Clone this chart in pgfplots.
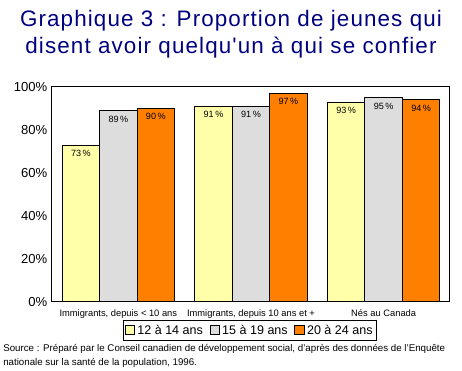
\documentclass[border=0pt]{standalone}
\usepackage{fontspec}
\setmainfont{Liberation Sans}
\usepackage{pgfplots}
\pgfplotsset{compat=1.18}
\definecolor{cyel}{HTML}{FFFFAA}
\definecolor{cgry}{HTML}{DDDDDD}
\definecolor{corg}{HTML}{FF8000}
\definecolor{navy}{HTML}{000080}
\newfontfamily\titlefont[LetterSpace=5]{Liberation Sans}
\begin{document}
\begin{tikzpicture}
\path[use as bounding box] (0,0) rectangle (346.5pt,278.25pt);
\node[text=navy, font=\titlefont\fontsize{16.8pt}{20.2pt}\selectfont, align=center, anchor=center] at (173.25pt,252.5pt)
  {Graphique 3 : Proportion de jeunes qui\\disent avoir quelqu'un à qui se confier};
\begin{axis}[
  at={(39pt,51.75pt)}, anchor=south west,
  scale only axis, width=298.5pt, height=161.25pt,
  xmin=-0.5, xmax=2.5, ymin=0, ymax=100,
  ybar=0pt, bar width=28.1pt,
  axis line style={black, line width=0.75pt},
  xtick={0,1,2},
  xticklabels={{Immigrants, depuis < 10 ans},{Immigrants, depuis 10 ans et +},{Nés au Canada}},
  xticklabel style={font=\fontsize{7pt}{8pt}\selectfont, inner sep=1pt, yshift=-4.5pt},
  ytick={0,20,40,60,80,100},
  yticklabel={\pgfmathprintnumber{\tick}\%},
  yticklabel style={font=\fontsize{9.8pt}{11pt}\selectfont},
  /pgf/number format/assume math mode=true,
  major tick length=0pt,
  nodes near coords={\pgfmathprintnumber{\pgfplotspointmeta}\,\%},
  every node near coord/.append style={anchor=north, inner sep=0pt, yshift=-3.5pt, font=\fontsize{6.8pt}{8pt}\selectfont, text=black},
  legend columns=3,
  legend style={at={(0.4975,-0.1326)}, anchor=center, draw=black, line width=0.6pt,
    font=\fontsize{9.4pt}{11pt}\selectfont, inner sep=1pt,
    /tikz/every even column/.append style={column sep=3pt}},
  legend image code/.code={\draw[#1, line width=0.5pt] (0pt,-3pt) rectangle (7pt,4pt);},
]
\addplot[fill=cyel, draw=black, line width=0.75pt] coordinates {(0,73) (1,91) (2,93)};
\addplot[fill=cgry, draw=black, line width=0.75pt] coordinates {(0,89) (1,91) (2,95)};
\addplot[fill=corg, draw=black, line width=0.75pt] coordinates {(0,90) (1,97) (2,94)};
\legend{12 à 14 ans, 15 à 19 ans, 20 à 24 ans}
\end{axis}
\node[anchor=north west, align=left, inner sep=0pt, font=\fontsize{7.3pt}{9.75pt}\selectfont] at (2.25pt,20.5pt)
  {Source : Préparé par le Conseil canadien de développement social, d'après des données de l'Enquête\\[0.8pt]nationale sur la santé de la population, 1996.};
\end{tikzpicture}
\end{document}
